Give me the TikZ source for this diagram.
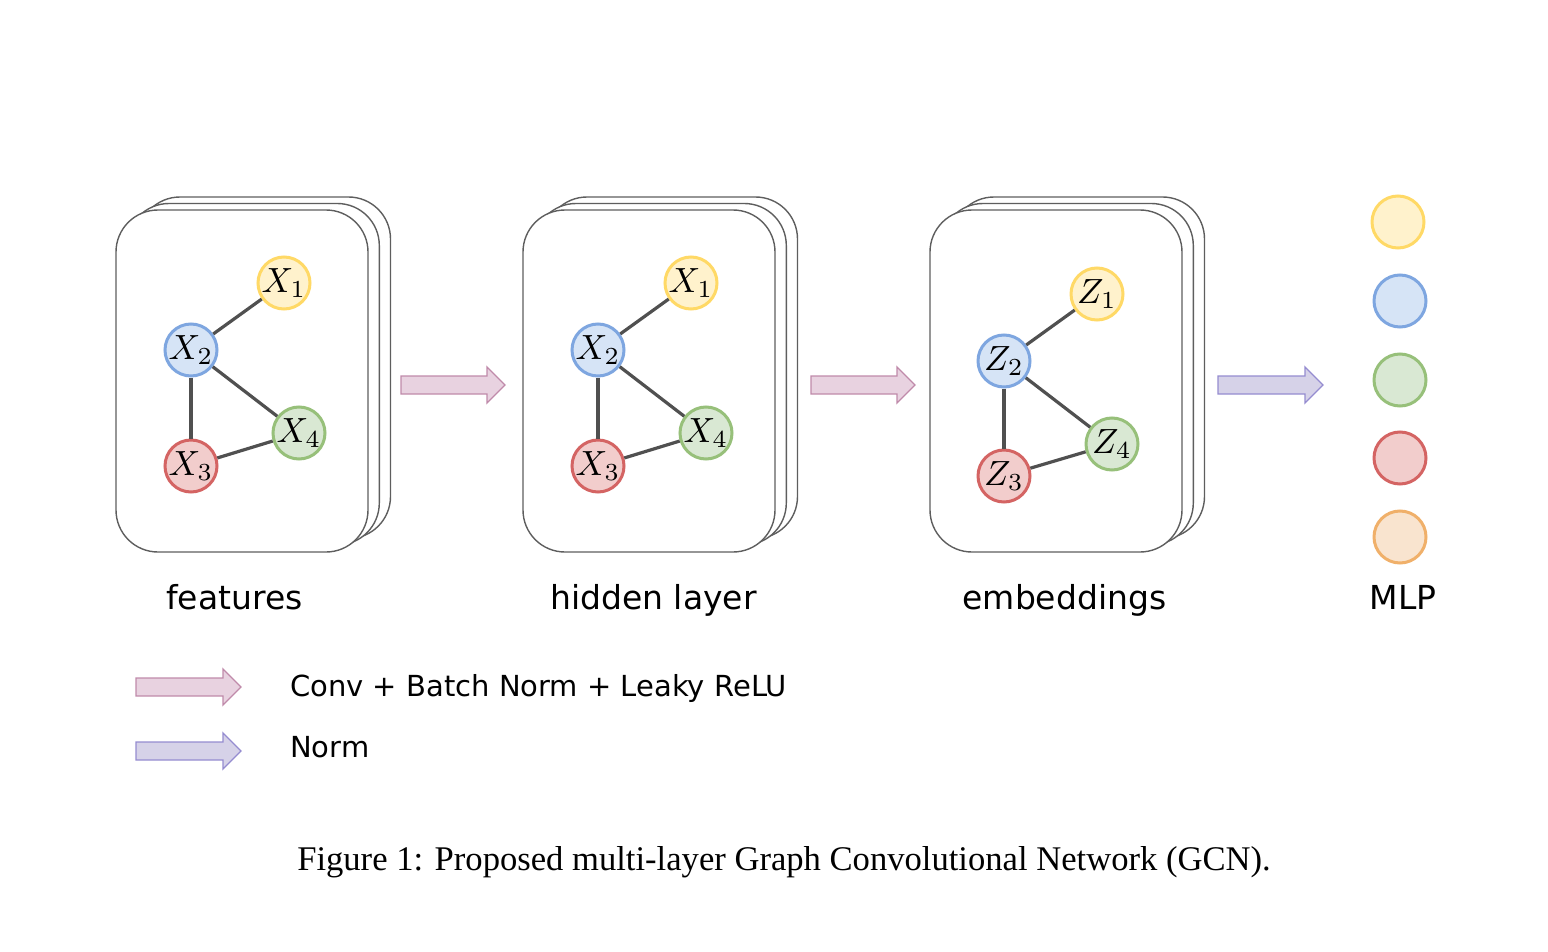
\documentclass[tikz,border=0pt]{standalone}
\usepackage{fontspec}
\usepackage{graphicx}
\newfontfamily\labfont{DejaVu Sans}
\newfontfamily\capfont{Liberation Serif}
\definecolor{yelD}{HTML}{FFD966}\definecolor{yelF}{HTML}{FFF2CC}
\definecolor{bluD}{HTML}{7EA6E0}\definecolor{bluF}{HTML}{D6E4F6}
\definecolor{grnD}{HTML}{97C07A}\definecolor{grnF}{HTML}{D9E8D3}
\definecolor{redD}{HTML}{D46463}\definecolor{redF}{HTML}{F2CDCC}
\definecolor{orgD}{HTML}{F0B06A}\definecolor{orgF}{HTML}{F9E4CF}
\definecolor{pinkD}{HTML}{C08AAA}\definecolor{pinkF}{HTML}{E8D2E0}
\definecolor{purD}{HTML}{958CD0}\definecolor{purF}{HTML}{D6D2E8}
\definecolor{boxD}{HTML}{5E5E5E}
\definecolor{edgeD}{HTML}{505050}
\newcommand{\mathlab}[1]{\scalebox{3.5}{$#1$}}
\newcommand{\blkarrow}[4]{%
  \draw[#1] (#2,#4-9) -- (#3-18,#4-9) -- (#3-18,#4-18) -- (#3,#4)
    -- (#3-18,#4+18) -- (#3-18,#4+9) -- (#2,#4+9) -- cycle;}
\newcommand{\cards}{%
  \draw[card] (138,197) rectangle (390.5,538.5);
  \draw[card] (127,203.5) rectangle (379.3,545);
  \draw[card] (116,210) rectangle (368,552);}
\tikzset{
  gnode/.style={circle, minimum size=52pt, inner sep=-14pt, line width=3pt},
  yel/.style={gnode, draw=yelD, fill=yelF},
  blu/.style={gnode, draw=bluD, fill=bluF},
  grn/.style={gnode, draw=grnD, fill=grnF},
  red/.style={gnode, draw=redD, fill=redF},
  org/.style={gnode, draw=orgD, fill=orgF},
  gedge/.style={draw=edgeD, line width=3.2pt},
  card/.style={draw=boxD, fill=white, line width=1.4pt, rounded corners=42pt},
  pinkarrow/.style={draw=pinkD, fill=pinkF, line width=1.3pt, line join=miter},
  purarrow/.style={draw=purD, fill=purF, line width=1.3pt, line join=miter},
  lab/.style={font=\labfont\fontsize{33}{40}\selectfont, anchor=base, inner sep=0pt},
  leg/.style={font=\labfont\fontsize{29}{34}\selectfont, anchor=west, inner sep=0pt},
}
\begin{document}
\begin{tikzpicture}[x=1pt,y=-1pt]
\path[use as bounding box] (0,0) rectangle (1548,952);

% stacked cards
\cards
\begin{scope}[shift={(407,0)}]\cards\end{scope}
\begin{scope}[shift={(814,0)}]\cards\end{scope}

% panel 1
\node[yel] (a1) at (284,283) {\mathlab{X_1}};
\node[blu] (a2) at (191,350) {\mathlab{X_2}};
\node[red] (a3) at (191,466) {\mathlab{X_3}};
\node[grn] (a4) at (299,433) {\mathlab{X_4}};
\draw[gedge] (a2) -- (a1);
\draw[gedge] (a2) -- (a3);
\draw[gedge] (a2) -- (a4);
\draw[gedge] (a3) -- (a4);

% panel 2
\node[yel] (b1) at (691,283) {\mathlab{X_1}};
\node[blu] (b2) at (598,350) {\mathlab{X_2}};
\node[red] (b3) at (598,466) {\mathlab{X_3}};
\node[grn] (b4) at (706,433) {\mathlab{X_4}};
\draw[gedge] (b2) -- (b1);
\draw[gedge] (b2) -- (b3);
\draw[gedge] (b2) -- (b4);
\draw[gedge] (b3) -- (b4);

% panel 3
\node[yel] (c1) at (1097,294) {\mathlab{Z_1}};
\node[blu] (c2) at (1004,361) {\mathlab{Z_2}};
\node[red] (c3) at (1004,476) {\mathlab{Z_3}};
\node[grn] (c4) at (1112,444) {\mathlab{Z_4}};
\draw[gedge] (c2) -- (c1);
\draw[gedge] (c2) -- (c3);
\draw[gedge] (c2) -- (c4);
\draw[gedge] (c3) -- (c4);

% MLP
\node[yel] (m1) at (1398,222) {};
\node[blu] (m2) at (1400,301) {};
\node[grn] (m3) at (1400,380) {};
\node[red] (m4) at (1400,458) {};
\node[org] (m5) at (1400,537) {};

% block arrows
\blkarrow{pinkarrow}{401}{505}{385}
\blkarrow{pinkarrow}{811}{915}{385}
\blkarrow{purarrow}{1218}{1323}{385}

% labels
\node[lab] (l1) at (234.5,609) {features};
\node[lab] (l2) at (653.5,609) {hidden layer};
\node[lab] (l3) at (1064.5,609) {embeddings};
\node[lab] (l4) at (1403,609) {MLP};

% legend
\blkarrow{pinkarrow}{136}{241}{687}
\blkarrow{purarrow}{136}{241}{751}
\node[leg] (t1) at (290,688) {Conv + Batch Norm + Leaky ReLU};
\node[leg] (t2) at (290,747) {Norm};

% caption
\node[font=\capfont\fontsize{34.6}{42}\selectfont, anchor=base, inner sep=0pt] (cap) at (784,870)
  {Figure 1: Proposed multi-layer Graph Convolutional Network (GCN).};
\end{tikzpicture}
\end{document}
